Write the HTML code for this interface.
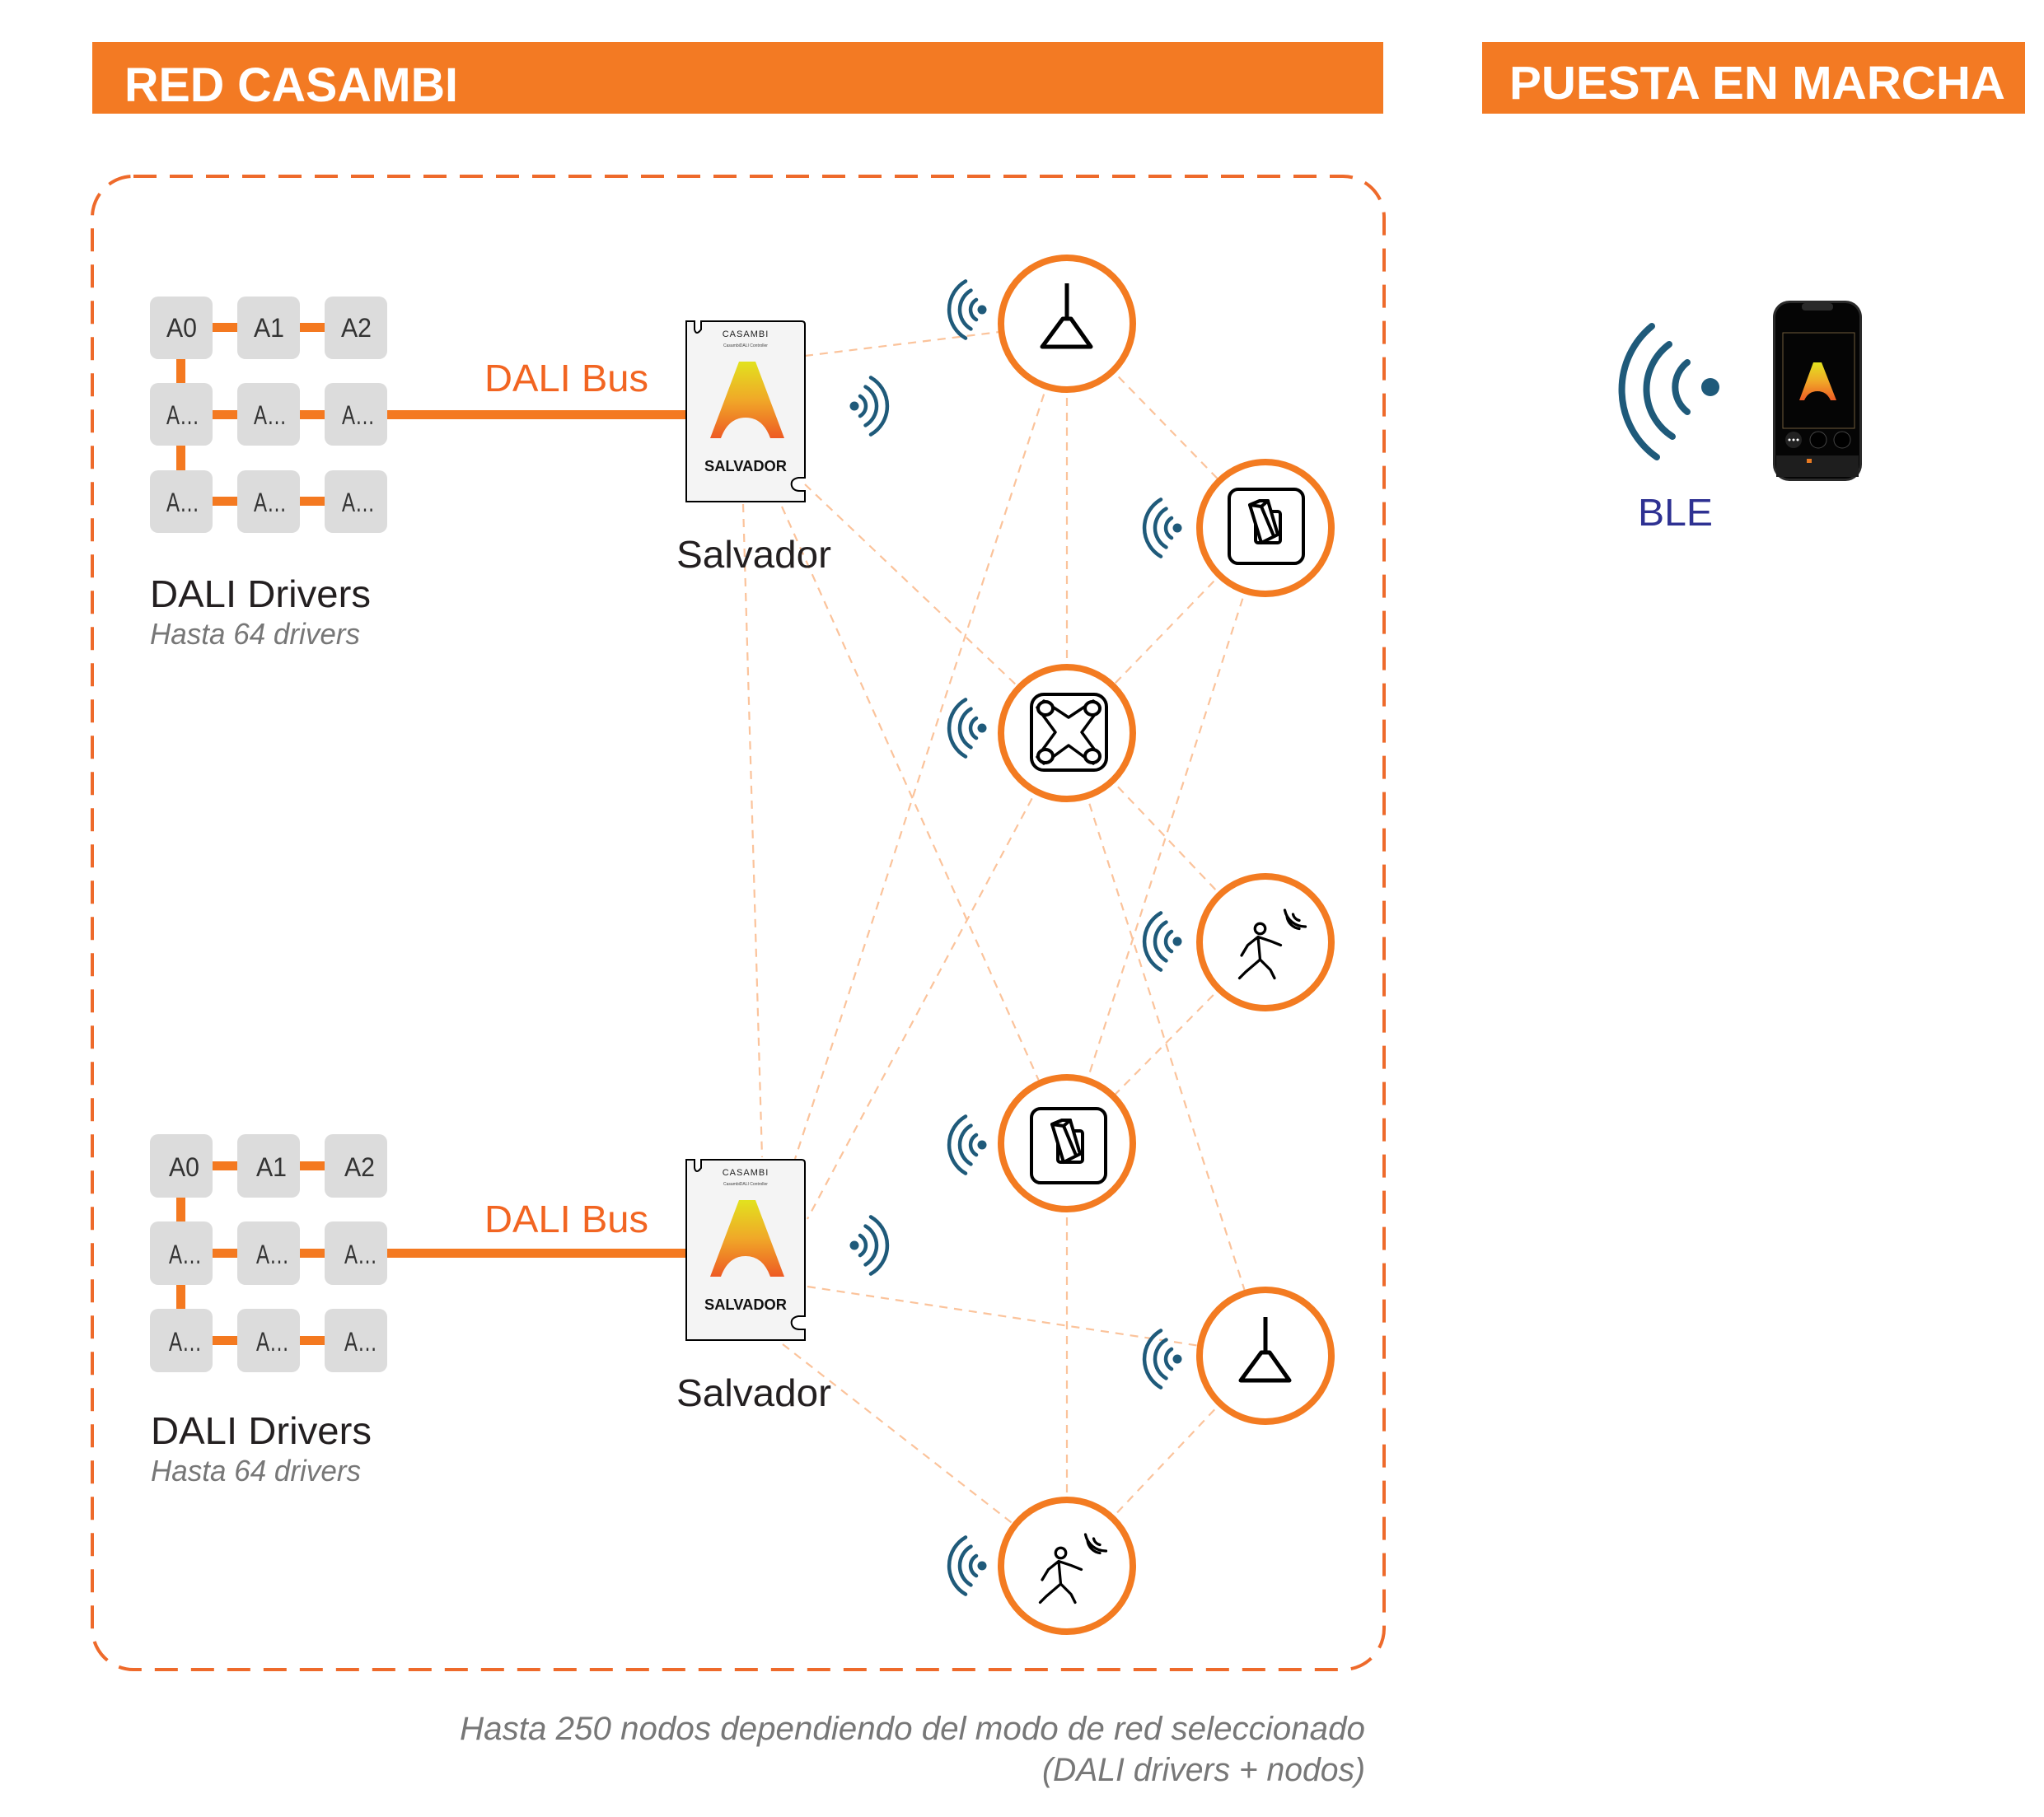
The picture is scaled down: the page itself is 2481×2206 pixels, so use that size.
<!DOCTYPE html>
<html><head><meta charset="utf-8"><style>
html,body{margin:0;padding:0;background:#fff;}
svg{display:block;}
text{font-family:"Liberation Sans",sans-serif;}
</style></head><body>
<svg width="2481" height="2206" viewBox="0 0 2481 2206" xmlns="http://www.w3.org/2000/svg">
<defs>
<linearGradient id="ag" x1="0" y1="0" x2="0" y2="1">
<stop offset="0" stop-color="#e2e21e"/><stop offset="0.5" stop-color="#f0a828"/><stop offset="1" stop-color="#ee5a24"/>
</linearGradient>
<g id="wl" fill="none" stroke="#1f5a7a" stroke-width="4.5" stroke-linecap="round">
<path d="M -7 -12.1 A14 14 0 0 0 -7 12.1"/>
<path d="M -13.5 -23.4 A27 27 0 0 0 -13.5 23.4"/>
<path d="M -20 -34.6 A40 40 0 0 0 -20 34.6"/>
<circle cx="0" cy="0" r="5.5" fill="#1f5a7a" stroke="none"/>
</g>
<g id="lamp" fill="none" stroke="#000" stroke-width="5" stroke-linejoin="round">
<line x1="0" y1="-49" x2="0" y2="-6"/>
<path d="M -5 -6 L 5 -6 L 29 28 L -30 28 Z"/>
</g>
<g id="switch" fill="none" stroke="#000" stroke-width="4" stroke-linejoin="round">
<rect x="-45" y="-45" width="90" height="90" rx="11"/>
<rect x="-13" y="-18" width="30" height="38" rx="3"/>
<path d="M -20 -26 L -8 -31 L 2 -31 L 14 10 L -6 20 Z" fill="#fff"/>
<path d="M -20 -26 L -8 -31 L 2 -31 L -6 -24 Z"/>
<path d="M -6 -24 L 10 14"/>
</g>
<g id="walker" fill="none" stroke="#000" stroke-width="2.6" stroke-linejoin="round" stroke-linecap="round">
<circle cx="-2" cy="-18" r="5"/>
<path d="M -4 -10 L -14 -2 L -20 8 M -4 -10 L 8 -6 L 18 -2 M -4 -10 L -2 12 L -16 24 L -22 30 M -2 12 L 8 22 L 12 30"/>
<path d="M 24 -30 A14 14 0 0 0 36 -18 M 22 -36 A20 20 0 0 0 42 -20 M 30 -32 A8 8 0 0 0 36 -26"/>
</g>
<g id="keypad" fill="none" stroke="#000" stroke-width="4" stroke-linejoin="round">
<rect x="-45" y="-46" width="91" height="92" rx="15"/>
<path d="M -30 -38 L 0 -18 L 30 -38 L 38 -30 L 16 0 L 38 30 L 30 38 L 0 16 L -30 38 L -38 30 L -16 0 L -38 -30 Z" stroke-width="3.5"/>
<ellipse cx="-28" cy="-29" rx="9" ry="8" fill="#fff"/>
<ellipse cx="29" cy="-29" rx="9" ry="8" fill="#fff"/>
<ellipse cx="-28" cy="29" rx="9" ry="8" fill="#fff"/>
<ellipse cx="29" cy="29" rx="9" ry="8" fill="#fff"/>
</g>
<g id="salv">
<path d="M 0 0 L 10 0 L 10 10 Q 12 18 18 10 L 18 0 L 140 0 Q 144 0 144 4 L 144 190 L 136 190 Q 126 192 128 200 Q 130 206 138 206 L 144 206 L 144 219 L 0 219 Z" fill="#f4f4f4" stroke="#000" stroke-width="2"/>
<text x="72" y="19" font-size="11" text-anchor="middle" fill="#222" letter-spacing="1">CASAMBI</text>
<text x="72" y="31" font-size="5" text-anchor="middle" fill="#444">CasambiDALI Controller</text>
<path d="M 64 49 L 84 49 L 119 142 L 102 142 Q 93 117 72 117 Q 51 117 42 142 L 29 142 Z" fill="url(#ag)"/>
<text x="72" y="182" font-size="18" font-weight="bold" text-anchor="middle" fill="#111" textLength="100" lengthAdjust="spacingAndGlyphs">SALVADOR</text>
</g>
</defs>

<rect x="112" y="51" width="1567" height="87" fill="#f37a23"/>
<text x="151" y="123" font-size="58" font-weight="bold" fill="#fff" textLength="405" lengthAdjust="spacingAndGlyphs">RED CASAMBI</text>
<rect x="1799" y="51" width="659" height="87" fill="#f37a23"/>
<text x="1832" y="120" font-size="57" font-weight="bold" fill="#fff" textLength="602" lengthAdjust="spacingAndGlyphs">PUESTA EN MARCHA</text>

<rect x="112" y="214" width="1568" height="1813" rx="50" fill="none" stroke="#ee6a2b" stroke-width="4" stroke-dasharray="28 16"/>

<g stroke="#fbc39b" stroke-width="2.2" stroke-dasharray="10 8" fill="none">
<line x1="977" y1="432" x2="1295" y2="393"/>
<line x1="977" y1="588" x2="1295" y2="890"/>
<line x1="949" y1="615" x2="1295" y2="1388"/>
<line x1="902" y1="612" x2="925" y2="1405"/>
<line x1="1295" y1="393" x2="965" y2="1407"/>
<line x1="1295" y1="890" x2="980" y2="1480"/>
<line x1="980" y1="1562" x2="1536" y2="1646"/>
<line x1="950" y1="1632" x2="1295" y2="1901"/>
<line x1="1295" y1="393" x2="1536" y2="641"/>
<line x1="1295" y1="393" x2="1295" y2="890"/>
<line x1="1536" y1="641" x2="1295" y2="890"/>
<line x1="1536" y1="641" x2="1295" y2="1388"/>
<line x1="1295" y1="890" x2="1536" y2="1144"/>
<line x1="1295" y1="890" x2="1536" y2="1646"/>
<line x1="1536" y1="1144" x2="1295" y2="1388"/>
<line x1="1295" y1="1388" x2="1295" y2="1901"/>
<line x1="1536" y1="1646" x2="1295" y2="1901"/>
</g>

<g fill="#f47920">
<rect x="214" y="436" width="11" height="29"/><rect x="214" y="541" width="11" height="30"/>
<rect x="258" y="392" width="30" height="11"/><rect x="364" y="392" width="30" height="11"/>
<rect x="258" y="498" width="30" height="11"/><rect x="364" y="498" width="30" height="11"/>
<rect x="258" y="603" width="30" height="11"/><rect x="364" y="603" width="30" height="11"/>
<rect x="470" y="498" width="363" height="11"/>
<rect x="214" y="1453" width="11" height="30"/><rect x="214" y="1559" width="11" height="30"/>
<rect x="258" y="1410" width="30" height="11"/><rect x="364" y="1410" width="30" height="11"/>
<rect x="258" y="1516" width="30" height="11"/><rect x="364" y="1516" width="30" height="11"/>
<rect x="258" y="1622" width="30" height="11"/><rect x="364" y="1622" width="30" height="11"/>
<rect x="470" y="1516" width="363" height="11"/>
</g>
<g fill="#dcdcdc">
<rect x="182" y="360" width="76" height="76" rx="10"/><rect x="288" y="360" width="76" height="76" rx="10"/><rect x="394" y="360" width="76" height="76" rx="10"/>
<rect x="182" y="465" width="76" height="76" rx="10"/><rect x="288" y="465" width="76" height="76" rx="10"/><rect x="394" y="465" width="76" height="76" rx="10"/>
<rect x="182" y="571" width="76" height="76" rx="10"/><rect x="288" y="571" width="76" height="76" rx="10"/><rect x="394" y="571" width="76" height="76" rx="10"/>
<rect x="182" y="1377" width="76" height="77" rx="10"/><rect x="288" y="1377" width="76" height="77" rx="10"/><rect x="394" y="1377" width="76" height="77" rx="10"/>
<rect x="182" y="1483" width="76" height="77" rx="10"/><rect x="288" y="1483" width="76" height="77" rx="10"/><rect x="394" y="1483" width="76" height="77" rx="10"/>
<rect x="182" y="1589" width="76" height="77" rx="10"/><rect x="288" y="1589" width="76" height="77" rx="10"/><rect x="394" y="1589" width="76" height="77" rx="10"/>
</g>
<g font-size="32" fill="#333">
<text x="202" y="409" textLength="37" lengthAdjust="spacingAndGlyphs">A0</text><text x="308" y="409" textLength="37" lengthAdjust="spacingAndGlyphs">A1</text><text x="414" y="409" textLength="37" lengthAdjust="spacingAndGlyphs">A2</text>
<text x="202" y="515" textLength="40" lengthAdjust="spacingAndGlyphs">A…</text><text x="308" y="515" textLength="40" lengthAdjust="spacingAndGlyphs">A…</text><text x="415" y="515" textLength="40" lengthAdjust="spacingAndGlyphs">A…</text>
<text x="202" y="621" textLength="40" lengthAdjust="spacingAndGlyphs">A…</text><text x="308" y="621" textLength="40" lengthAdjust="spacingAndGlyphs">A…</text><text x="415" y="621" textLength="40" lengthAdjust="spacingAndGlyphs">A…</text>
<text x="205" y="1428" textLength="37" lengthAdjust="spacingAndGlyphs">A0</text><text x="311" y="1428" textLength="37" lengthAdjust="spacingAndGlyphs">A1</text><text x="418" y="1428" textLength="37" lengthAdjust="spacingAndGlyphs">A2</text>
<text x="205" y="1534" textLength="40" lengthAdjust="spacingAndGlyphs">A…</text><text x="311" y="1534" textLength="40" lengthAdjust="spacingAndGlyphs">A…</text><text x="418" y="1534" textLength="40" lengthAdjust="spacingAndGlyphs">A…</text>
<text x="205" y="1640" textLength="40" lengthAdjust="spacingAndGlyphs">A…</text><text x="311" y="1640" textLength="40" lengthAdjust="spacingAndGlyphs">A…</text><text x="418" y="1640" textLength="40" lengthAdjust="spacingAndGlyphs">A…</text>
</g>

<text x="588" y="475" font-size="46" fill="#f26522" textLength="199" lengthAdjust="spacingAndGlyphs">DALI Bus</text>
<text x="588" y="1496" font-size="46" fill="#f26522" textLength="199" lengthAdjust="spacingAndGlyphs">DALI Bus</text>
<text x="821" y="689" font-size="46" fill="#231f20" textLength="188" lengthAdjust="spacingAndGlyphs">Salvador</text>
<text x="821" y="1707" font-size="46" fill="#231f20" textLength="188" lengthAdjust="spacingAndGlyphs">Salvador</text>
<text x="182" y="737" font-size="46" fill="#231f20" textLength="268" lengthAdjust="spacingAndGlyphs">DALI Drivers</text>
<text x="183" y="1753" font-size="46" fill="#231f20" textLength="268" lengthAdjust="spacingAndGlyphs">DALI Drivers</text>
<text x="182" y="782" font-size="36" font-style="italic" fill="#777" textLength="255" lengthAdjust="spacingAndGlyphs">Hasta 64 drivers</text>
<text x="183" y="1798" font-size="36" font-style="italic" fill="#777" textLength="255" lengthAdjust="spacingAndGlyphs">Hasta 64 drivers</text>
<text x="558" y="2112" font-size="40" font-style="italic" fill="#777" textLength="1099" lengthAdjust="spacingAndGlyphs">Hasta 250 nodos dependiendo del modo de red seleccionado</text>
<text x="1265" y="2162" font-size="40" font-style="italic" fill="#777" textLength="392" lengthAdjust="spacingAndGlyphs">(DALI drivers + nodos)</text>

<use href="#salv" x="833" y="390"/>
<use href="#salv" x="833" y="1408"/>
<use href="#wl" transform="translate(1037,493) scale(-1,1)"/>
<use href="#wl" transform="translate(1037,1512) scale(-1,1)"/>

<g fill="#fff" stroke="#f37b21" stroke-width="8">
<circle cx="1295" cy="393" r="80"/>
<circle cx="1536" cy="641" r="80"/>
<circle cx="1295" cy="890" r="80"/>
<circle cx="1536" cy="1144" r="80"/>
<circle cx="1295" cy="1388" r="80"/>
<circle cx="1536" cy="1646" r="80"/>
<circle cx="1295" cy="1901" r="80"/>
</g>
<use href="#lamp" x="1295" y="393"/>
<use href="#switch" x="1537" y="639"/>
<use href="#keypad" x="1297" y="889"/>
<use href="#walker" transform="translate(1532,1150) scale(1.25)"/>
<use href="#switch" x="1297" y="1391"/>
<use href="#lamp" x="1536" y="1648"/>
<use href="#walker" transform="translate(1290,1908) scale(1.25)"/>

<use href="#wl" x="1192" y="376"/>
<use href="#wl" x="1429" y="641"/>
<use href="#wl" x="1192" y="884"/>
<use href="#wl" x="1429" y="1143"/>
<use href="#wl" x="1192" y="1390"/>
<use href="#wl" x="1429" y="1650"/>
<use href="#wl" x="1192" y="1901"/>

<g fill="none" stroke="#1f5a7a" stroke-width="8" stroke-linecap="round">
<path d="M 2048 440 A 38 38 0 0 0 2048 500"/>
<path d="M 2026 418 A 68 68 0 0 0 2030 530"/>
<path d="M 2005 396 A 100 100 0 0 0 2011 555"/>
</g>
<circle cx="2076" cy="470" r="11" fill="#1f5a7a"/>
<text x="1988" y="638" font-size="46" fill="#2e3192" textLength="91" lengthAdjust="spacingAndGlyphs">BLE</text>

<rect x="2152" y="365" width="108" height="219" rx="20" fill="#2a2a2a"/>
<rect x="2155" y="368" width="102" height="213" rx="17" fill="#050505"/>
<rect x="2187" y="368" width="38" height="9" rx="4" fill="#2a2a2a"/>
<rect x="2164" y="404" width="87" height="116" fill="none" stroke="#6e5a3a" stroke-width="1"/>
<path d="M 2201 440 L 2211 440 L 2229 486 L 2222 486 Q 2217 475 2206 475 Q 2195 475 2190 486 L 2184 486 Z" fill="url(#ag)"/>
<circle cx="2177" cy="534" r="10" fill="#222"/>
<circle cx="2207" cy="534" r="10" fill="#000" stroke="#444" stroke-width="1"/>
<circle cx="2236" cy="534" r="10" fill="#000" stroke="#444" stroke-width="1"/>
<circle cx="2172" cy="534" r="1.5" fill="#fff"/><circle cx="2177" cy="534" r="1.5" fill="#fff"/><circle cx="2182" cy="534" r="1.5" fill="#fff"/>
<rect x="2156" y="553" width="100" height="26" fill="#1e1e1e"/>
<rect x="2193" y="557" width="6" height="5" fill="#e87a22"/>
</svg>
</body></html>
